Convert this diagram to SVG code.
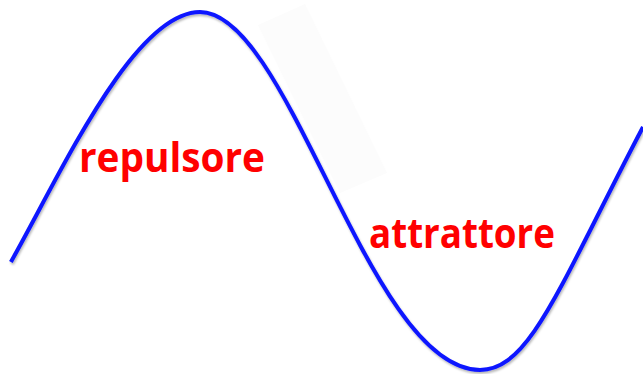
<svg xmlns="http://www.w3.org/2000/svg" width="643" height="374" viewBox="0 0 643 374">
  <style>
    .curve { fill: none; stroke: #0a14ff; stroke-width: 4; stroke-linecap: butt; stroke-linejoin: round; }
    .label { font-family: "Open Sans", "Liberation Sans", sans-serif; font-weight: 700; font-size: 41px; fill: #ff0000; }
  </style>
  <defs>
    <filter id="shadow" x="-10%" y="-10%" width="120%" height="120%">
      <feDropShadow dx="1" dy="2" stdDeviation="1.2" flood-color="#000000" flood-opacity="0.28"/>
    </filter>
  </defs>
  <rect width="643" height="374" fill="#ffffff"/>
  <g id="backdrop">
    <polygon points="258,25 305,4 387,173 340,193" fill="#fcfcfc"/>
  </g>
  <g id="curve">
    <path class="curve" filter="url(#shadow)" d="M10.9 262 L12 260 C61.5 172 134 12 200 12 C290 12 369 370 480 370 C530 370 559.3 286.3 643 127"/>
  </g>
  <g id="label-repulsore">
    <text class="label" x="79" y="172" textLength="186" lengthAdjust="spacingAndGlyphs">repulsore</text>
  </g>
  <g id="label-attrattore">
    <text class="label" x="369" y="248" textLength="186" lengthAdjust="spacingAndGlyphs">attrattore</text>
  </g>
</svg>
